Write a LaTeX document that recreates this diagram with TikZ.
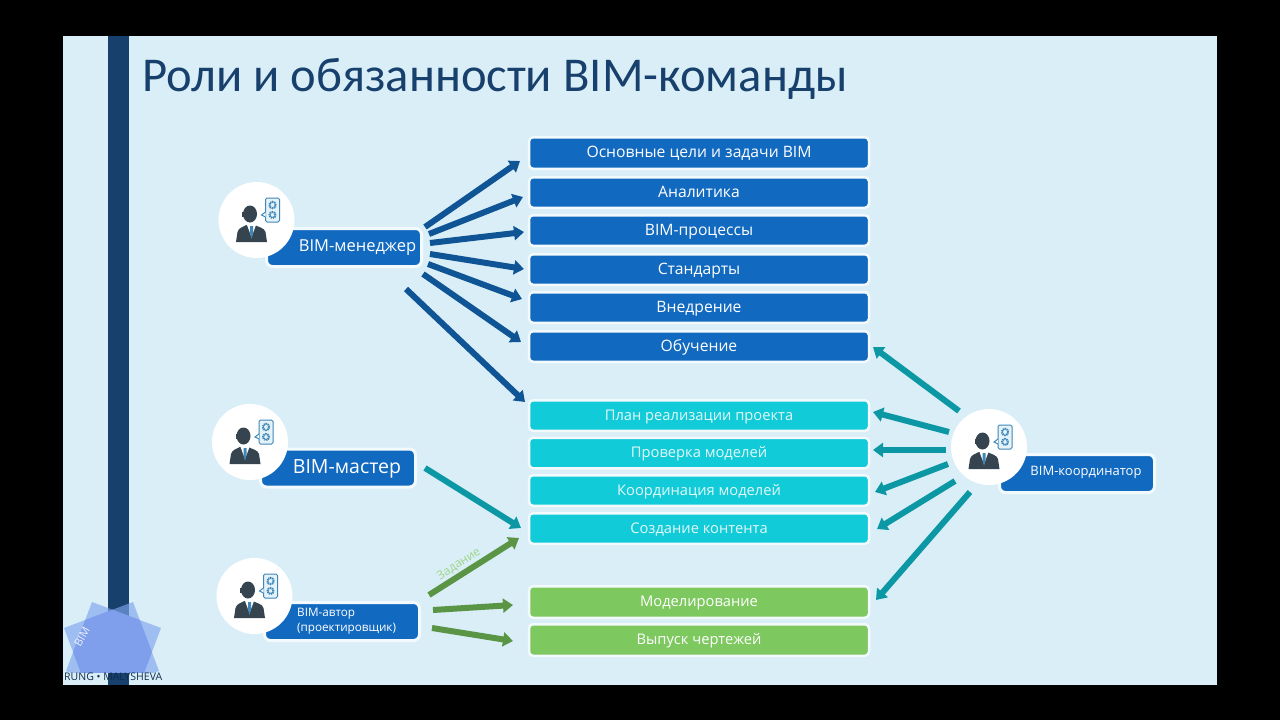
\documentclass[tikz,border=0pt]{standalone}
\usepackage{fontspec}
\setmainfont{Open Sans}
\newfontfamily\titlefont{Carlito}
\usetikzlibrary{arrows.meta}
\definecolor{slide}{HTML}{DAEEF7}
\definecolor{navy}{HTML}{17406D}
\definecolor{boxblue}{HTML}{1269C0}
\definecolor{boxcyan}{HTML}{12CBD8}
\definecolor{boxgreen}{HTML}{7DC85F}
\definecolor{arrblue}{HTML}{0F5596}
\definecolor{arrteal}{HTML}{0B97A4}
\definecolor{arrgreen}{HTML}{5A9445}
\definecolor{iconink}{HTML}{36444F}
\definecolor{iconblue}{HTML}{3F87B8}
\definecolor{logoblue}{HTML}{7FA4EE}
\definecolor{logomid}{HTML}{7F9FEC}
\definecolor{pale}{HTML}{F2FAFD}
\tikzset{
  x=1pt,y=-1pt,
  topicbox/.style={draw=pale,line width=2.5pt,rounded corners=4pt,text=white,
    minimum width=340pt,anchor=center,inner sep=0pt,text height=9pt,text depth=0pt},
  bluebox/.style={topicbox,fill=boxblue,font=\fontsize{15.7}{18}\selectfont},
  cyanbox/.style={topicbox,fill=boxcyan,text=white!88!boxcyan,font=\fontsize{14.7}{18}\selectfont},
  greenbox/.style={topicbox,fill=boxgreen,font=\fontsize{14.7}{18}\selectfont},
  rolebox/.style={draw=pale,line width=3pt,rounded corners=6pt,fill=boxblue,text=white,
    minimum width=155pt,minimum height=38pt,inner sep=0pt,anchor=center},
  arr/.style={line width=6pt,-{Triangle[length=10pt,width=14pt]}},
  bluearr/.style={arr,draw=arrblue},
  tealarr/.style={arr,draw=arrteal},
  greenarr/.style={arr,draw=arrgreen},
  disc/.style={circle,fill=white,minimum size=76pt,inner sep=0pt,anchor=center},
}
\newcommand{\personicon}[2]{%
  \begin{scope}[shift={(#1,#2)}]
    \fill[iconink] (-6.5,-6) ellipse (7pt and 8.5pt);
    \fill[iconink] (-14.5,-8) rectangle (-12.5,-3);
    \fill[iconink] (-20.5,22) -- (-19,12) .. controls (-18,8) and (-14,7) .. (-10,5)
       -- (-2,5) .. controls (2,7) and (8,8) .. (9,12) -- (10.5,22) -- cycle;
    \fill[white] (-9.5,5) -- (-5,17) -- (-0.5,5) -- cycle;
    \fill[iconblue] (-6.5,6) -- (-3.5,6) -- (-3.5,13) -- (-5,19) -- (-6.5,13) -- cycle;
    \draw[iconblue,line width=1pt,rounded corners=1.5pt,fill=slide!70]
       (9,-22) rectangle (23,2);
    \draw[iconblue,line width=1pt,fill=white] (9,-8) -- (5,-5) -- (9,-3);
    \draw[iconblue,line width=2pt,dash pattern=on 1.3pt off .7pt] (16,-15) circle (3.2pt);
    \draw[iconblue,line width=2pt,dash pattern=on 1.3pt off .7pt] (16,-5) circle (3pt);
  \end{scope}}
\begin{document}
\begin{tikzpicture}
\useasboundingbox (0,0) rectangle (1280,720);
\fill[black] (0,0) rectangle (1280,720);
\fill[slide] (63,36) rectangle (1217,685);
\fill[navy] (108,36) rectangle (129,685);
\node[anchor=base west,inner sep=0pt,text=navy,font=\fontsize{48.6}{54}\titlefont] (title) at (142,91) {Роли и обязанности BIM-команды};

% free ends of the arrows
\coordinate (m1) at (425,227); \coordinate (m1e) at (520,161);
\coordinate (m2) at (429,234); \coordinate (m2e) at (523,197);
\coordinate (m3) at (430,243); \coordinate (m3e) at (524,232);
\coordinate (m4) at (430,254); \coordinate (m4e) at (524,269);
\coordinate (m5) at (428,264); \coordinate (m5e) at (522,299);
\coordinate (m6) at (423,274); \coordinate (m6e) at (521,342);
\coordinate (m7) at (406,289); \coordinate (m7e) at (525,402);
\coordinate (c1) at (959,411); \coordinate (c1e) at (873,347);
\coordinate (c2) at (949,432); \coordinate (c2e) at (873,412);
\coordinate (c3) at (946,450); \coordinate (c3e) at (873,450);
\coordinate (c4) at (948,464); \coordinate (c4e) at (875,492);
\coordinate (c5) at (955,481); \coordinate (c5e) at (877,529);
\coordinate (c6) at (970,492); \coordinate (c6e) at (876,600);
\coordinate (b1) at (425,468); \coordinate (b1e) at (521,528);
\coordinate (a1) at (429,595); \coordinate (a1e) at (519,538);
\coordinate (a2) at (433,610); \coordinate (a2e) at (513,605);
\coordinate (a3) at (432,628); \coordinate (a3e) at (513,641);

\foreach \s/\e in {m1/m1e,m2/m2e,m3/m3e,m4/m4e,m5/m5e,m6/m6e,m7/m7e}
  \draw[bluearr] (\s) -- (\e);
\foreach \s/\e in {c1/c1e,c2/c2e,c3/c3e,c4/c4e,c5/c5e,c6/c6e,b1/b1e}
  \draw[tealarr] (\s) -- (\e);
\foreach \s/\e in {a1/a1e,a2/a2e,a3/a3e}
  \draw[greenarr] (\s) -- (\e);
\node[rotate=33,text=boxgreen!75!white,font=\fontsize{12}{14}\selectfont,inner sep=0pt] (task) at (459,564) {Задание};

% topic boxes
\node[bluebox,minimum height=31.5pt] (t1) at (699,153) {Основные цели и задачи BIM};
\node[bluebox,minimum height=30.5pt] (t2) at (699,192.5) {Аналитика};
\node[bluebox,minimum height=30.5pt] (t3) at (699,230.5) {BIM-процессы};
\node[bluebox,minimum height=30.5pt] (t4) at (699,269.5) {Стандарты};
\node[bluebox,minimum height=30.5pt] (t5) at (699,307.5) {Внедрение};
\node[bluebox,minimum height=30.5pt] (t6) at (699,346.5) {Обучение};
\node[cyanbox,minimum height=30.5pt] (t7) at (699,415.5) {План реализации проекта};
\node[cyanbox,minimum height=30.5pt] (t8) at (699,453) {Проверка моделей};
\node[cyanbox,minimum height=30.5pt] (t9) at (699,490.5) {Координация моделей};
\node[cyanbox,minimum height=30.5pt] (t10) at (699,528.5) {Создание контента};
\node[greenbox,minimum height=31.5pt] (t11) at (699,602) {Моделирование};
\node[greenbox,minimum height=31.5pt] (t12) at (699,640) {Выпуск чертежей};

% roles
\node[rolebox] (rm) at (344,247.5) {};
\node[text=white,inner sep=0pt,font=\fontsize{16.5}{18}\selectfont] (rmt) at (357.5,248) {BIM-менеджер};
\node[rolebox] (rb) at (338,468) {};
\node[text=white,inner sep=0pt,font=\fontsize{19.5}{22}\selectfont] (rbt) at (347,469) {BIM-мастер};
\node[rolebox] (ra) at (342,621.5) {};
\node[text=white,inner sep=0pt,align=left,anchor=west,font=\fontsize{11.7}{15}\selectfont] (rat) at (297,621) {BIM-автор\\(проектировщик)};
\node[rolebox] (rc) at (1077,473.5) {};
\node[text=white,inner sep=0pt,font=\fontsize{13}{15}\selectfont] (rct) at (1086,472.5) {BIM-координатор};

\node[disc] (dm) at (256.5,220) {}; \personicon{256.5}{220}
\node[disc] (db) at (250,442) {};   \personicon{250}{442}
\node[disc] (da) at (254.5,596) {}; \personicon{254.5}{596}
\node[disc] (dc) at (989,447) {};   \personicon{989}{447}

% logo
\begin{scope}
  \clip (64,590) rectangle (165,672);
  \fill[logoblue,opacity=.65] (92,602) -- (161,628) -- (135,697) -- (66,671) -- cycle;
  \fill[logoblue,opacity=.65] (133,602) -- (64,628) -- (90,697) -- (159,671) -- cycle;
  \begin{scope}
    \clip (92,602) -- (161,628) -- (135,697) -- (66,671) -- cycle;
    \fill[logomid] (133,602) -- (64,628) -- (90,697) -- (159,671) -- cycle;
  \end{scope}
\end{scope}
\node[rotate=60,text=white!85!logoblue,font=\fontsize{11}{13}\selectfont,inner sep=0pt] (logot) at (82,637) {BIM};
\node[anchor=west,text=navy!70!black,font=\fontsize{10.5}{12}\selectfont,inner sep=0pt] (logon) at (64,677) {RUNG • MALYSHEVA};
\end{tikzpicture}
\end{document}
